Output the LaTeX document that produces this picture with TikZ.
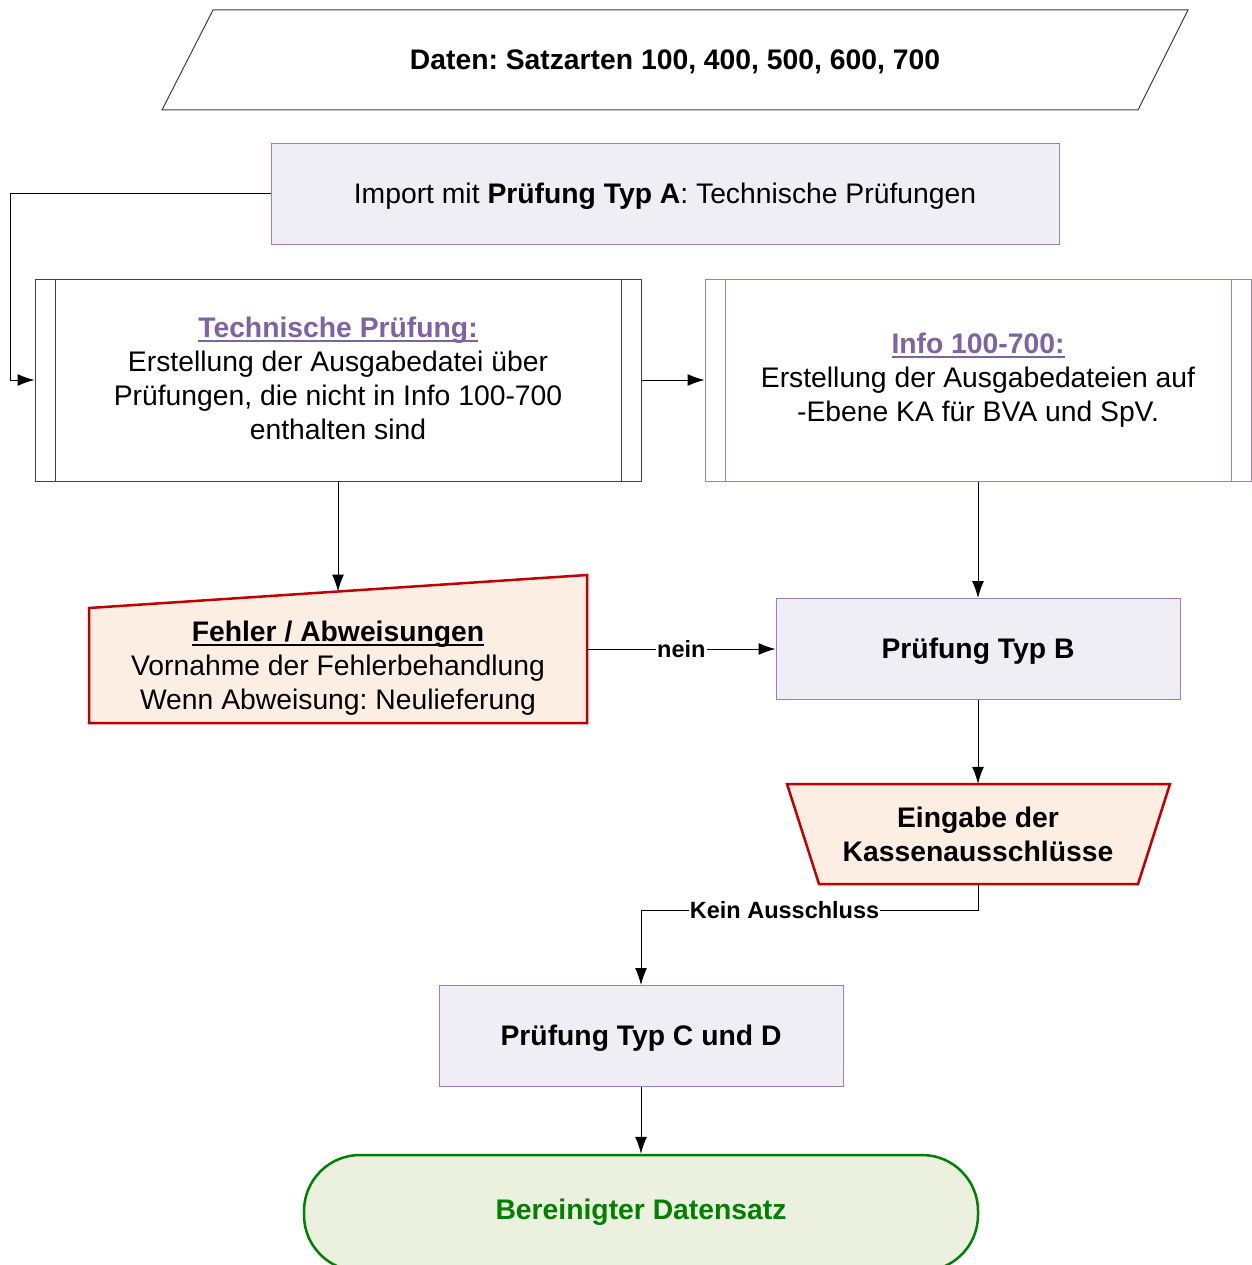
\documentclass[tikz,border=0pt]{standalone}
\usepackage{fontspec}
\setmainfont{Liberation Sans}
\frenchspacing
\newcommand{\myul}[1]{\setbox0\hbox{#1}\rlap{\rule[-5pt]{\wd0}{2pt}}\box0}
\usetikzlibrary{arrows.meta}
\definecolor{boxfill}{HTML}{F0EEF5}
\definecolor{boxline}{HTML}{A07CC8}
\definecolor{infoline}{HTML}{9A82BE}
\definecolor{titlepurple}{HTML}{7F62A4}
\definecolor{errfill}{HTML}{FDEEE4}
\definecolor{errline}{HTML}{C00000}
\definecolor{endfill}{HTML}{EBF1DE}
\definecolor{endline}{HTML}{008000}
\tikzset{
  every node/.style={font=\fontsize{28.3}{34}\selectfont\frenchspacing, align=center, inner sep=0pt},
  conn/.style={draw=black, line width=1pt, -{Latex[length=17pt,width=12pt]}},
  plainbox/.style={draw=boxline, fill=boxfill, line width=1pt, minimum height=101pt},
  lbl/.style={font=\fontsize{23.5}{27}\selectfont\bfseries, fill=white, inner sep=1pt},
}
\begin{document}
\begin{tikzpicture}[x=1pt,y=-1pt]
\useasboundingbox (0,0) rectangle (1251,1265);
% Data parallelogram
\draw[line width=1pt, draw=black!75, fill=white] (213,10) -- (1188,10) -- (1138,110) -- (162,110) -- cycle;
\node (daten) at (675,62) {\bfseries Daten: Satzarten 100, 400, 500, 600, 700};
% Import box
\node[plainbox, minimum width=788pt] (import) at (665,194) {};
\node at (665,196) {Import mit \textbf{Prüfung Typ A}: Technische Prüfungen};
% Tech box
\node[draw=black!75, fill=white, line width=1pt, minimum width=606pt, minimum height=202pt] (tech) at (338,380) {};
\draw[black!75, line width=1pt] (55,279) -- (55,481) (621,279) -- (621,481);
\node at (338,378) {\textcolor{titlepurple}{\bfseries\myul{Technische Prüfung:}}\\Erstellung der Ausgabedatei über\\Prüfungen, die nicht in Info 100-700\\enthalten sind};
% Info box
\node[draw=infoline, fill=white, line width=1pt, minimum width=546pt, minimum height=202pt] (info) at (978,380) {};
\draw[infoline, line width=1pt] (725,279) -- (725,481) (1231,279) -- (1231,481);
\node at (978,380) {\textcolor{titlepurple}{\bfseries\myul{Info 100-700:}}\\Erstellung der Ausgabedateien auf\\-Ebene KA für BVA und SpV.};
% Fehler (manual input)
\draw[draw=errline, fill=errfill, line width=2.5pt, line join=miter] (89,608) -- (587,575) -- (587,723) -- (89,723) -- cycle;
\node[minimum width=498pt, minimum height=114pt] (fehler) at (338,666) {};
\coordinate (fehlertop) at (338,591.5);
\node at (338,668) {\bfseries\myul{Fehler / Abweisungen}\\Vornahme der Fehlerbehandlung\\Wenn Abweisung: Neulieferung};
% Typ B
\node[plainbox, minimum width=404pt, minimum height=101pt] (typb) at (978,649) {};
\node at (978,651) {\bfseries Prüfung Typ B};
% Trapezoid
\draw[draw=errline, fill=errfill, line width=2.5pt, line join=miter] (787,784) -- (1170,784) -- (1138,884) -- (819,884) -- cycle;
\node[minimum width=319pt, minimum height=100pt] (eingabe) at (978,834) {};
\node at (978,834) {\bfseries Eingabe der\\\bfseries Kassenausschlüsse};
% Typ C und D
\node[plainbox, minimum width=404pt, minimum height=101pt] (typc) at (641,1036) {};
\node at (641,1038) {\bfseries Prüfung Typ C und D};
% Terminal
\node[draw=endline, fill=endfill, line width=2.5pt, rounded corners=56pt, minimum width=674pt, minimum height=116pt] (ende) at (641,1213) {};
\node at (641,1212) {\textcolor{endline}{\bfseries Bereinigter Datensatz}};
% Connectors
\draw[conn] (import.west) -- (10,194) |- (tech.west);
\draw[conn] (tech.east) -- (info.west);
\draw[conn] (tech.south) -- (fehlertop);
\draw[conn] (info.south) -- (typb.north);
\draw[conn] (fehler.east |- typb.west) -- node[lbl] {nein} (typb.west);
\draw[conn] (typb.south) -- (eingabe.north);
\draw[conn] (eingabe.south) -- (978,910) -- node[lbl, pos=0.574] {Kein Ausschluss} (641,910) -- (typc.north);
\draw[conn] (typc.south) -- (ende.north);
\end{tikzpicture}
\end{document}
